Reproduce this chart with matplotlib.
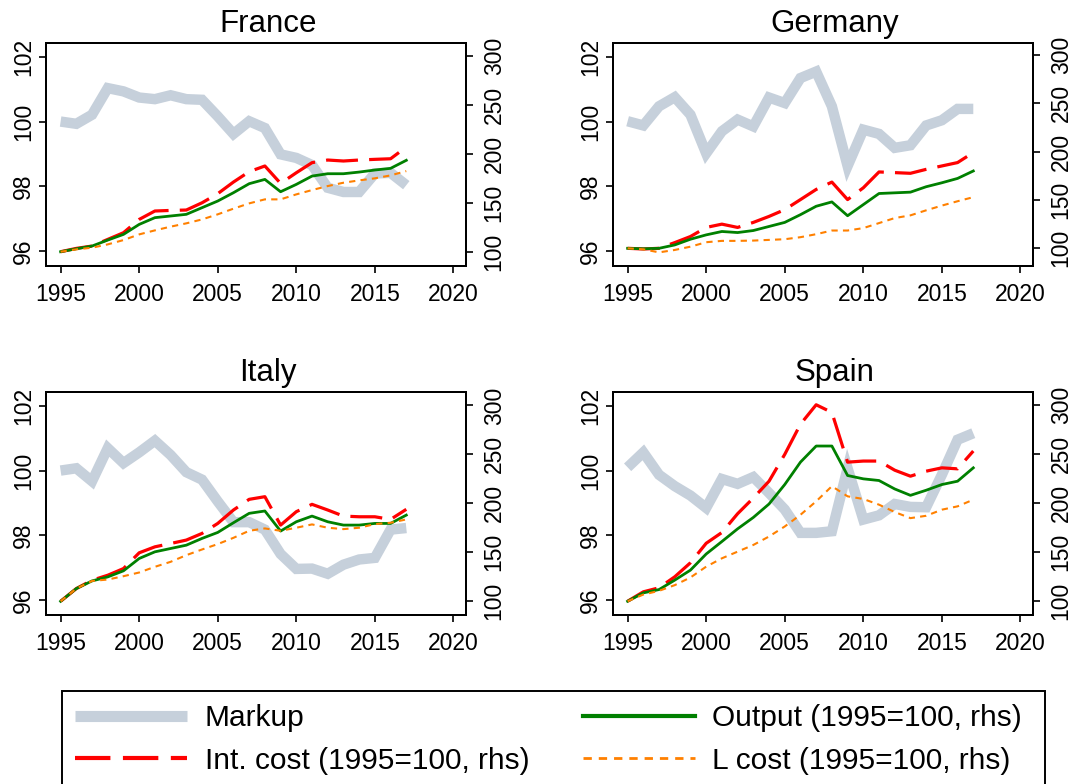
import matplotlib
matplotlib.use("Agg")
import matplotlib.pyplot as plt
from matplotlib.lines import Line2D
from matplotlib.patches import Rectangle

plt.rcParams['font.family'] = ['Liberation Sans', 'DejaVu Sans']

years = list(range(1995, 2018))
countries = ["France", "Germany", "Italy", "Spain"]

fr_markup = [100.0, 99.93, 100.21, 101.03, 100.93, 100.74, 100.69, 100.81, 100.69, 100.67, 100.16, 99.62,
             100.01, 99.80, 98.99, 98.88, 98.66, 97.96, 97.83, 97.83, 98.40, 98.42, 98.04]
fr_int = [100, 103.4, 105.8, 112.6, 119.4, 133, 141.6, 142.2, 142.6, 150, 159.3, 171.2, 181.8, 187.6,
          169.8, 180.7, 191, 193.7, 192.7, 193.7, 194.4, 195, 207]
fr_out = [100, 103, 105.8, 111.9, 117.7, 127.9, 134.8, 136.5, 138.2, 145, 151.8, 160.3, 169.5, 173.9,
          161.3, 168.8, 177.3, 179.7, 179.7, 181.4, 183.5, 185.2, 193.4]
fr_lc = [100, 102.4, 104.1, 107.5, 111.9, 117.7, 121.8, 125.6, 129, 133, 138.2, 144, 149.4, 153.5,
         153.5, 158.6, 163, 167.1, 170.5, 172.9, 175, 178, 182.4]

de_markup = [100.01, 99.88, 100.47, 100.75, 100.21, 99.02, 99.70, 100.06, 99.85, 100.74, 100.57, 101.34,
             101.54, 100.47, 98.63, 99.75, 99.62, 99.19, 99.27, 99.88, 100.04, 100.39, 100.39]
de_int = [100, 99.3, 100, 105.9, 112.2, 121.6, 125, 121.6, 126.8, 133, 140, 150.4, 160.9, 168.5,
          150.4, 162.6, 179, 178.3, 177.6, 181.7, 185.2, 188.7, 199.1]
de_out = [100, 99.5, 100, 103.5, 109.4, 113.9, 117.4, 116.3, 118.4, 122.6, 126.8, 134.8, 143.5, 148,
          133.7, 145.2, 156.7, 157.4, 158.1, 163.7, 167.8, 172.3, 180]
de_lc = [100, 99, 95.8, 98.3, 101.7, 106.3, 107.7, 107.7, 108, 108.7, 109.4, 111.5, 114.6, 118.4,
         118.4, 120.9, 126.1, 131.3, 134.1, 139.3, 144.2, 148.7, 152.9]

it_markup = [100.0, 100.07, 99.67, 100.69, 100.23, 100.56, 100.92, 100.48, 99.95, 99.72, 99.05, 98.41,
             98.41, 98.18, 97.43, 96.97, 96.98, 96.82, 97.10, 97.26, 97.31, 98.18, 98.23]
it_int = [100, 113, 121.5, 126.6, 133.4, 149.5, 155.6, 159, 162.5, 169.3, 179.5, 193.2, 204.1, 206.8,
          177.8, 191.5, 199, 193.2, 187, 186.3, 186.3, 183.6, 193.9]
it_out = [100, 113, 120.8, 124.9, 131.1, 143.7, 150.5, 153.9, 157.3, 164.2, 170.3, 180.2, 189.8, 192.2,
          171.7, 181.2, 187, 181.2, 177.8, 177.8, 179.5, 179.5, 188]
it_lc = [100, 113, 120.8, 122.2, 125.6, 129.4, 135.2, 140.3, 147.1, 152.9, 158.4, 164.8, 172, 174.4,
         172, 175.1, 178.5, 175.1, 173.7, 175.1, 178.8, 180.2, 183.6]

es_markup = [100.10, 100.56, 99.87, 99.52, 99.23, 98.85, 99.74, 99.59, 99.80, 99.31, 98.80, 98.08,
             98.08, 98.13, 100.07, 98.49, 98.62, 98.97, 98.88, 98.87, 99.87, 100.95, 101.15]
es_int = [100, 109.6, 113.7, 124.9, 139.2, 159, 170, 189.1, 205.1, 222.2, 249.5, 280.2, 300, 292.2,
          241.6, 242.7, 242.7, 233.4, 227.3, 232.4, 235.8, 234.8, 252.9]
es_out = [100, 108.5, 111.9, 121.5, 131.7, 148.1, 160.8, 173.7, 185.3, 199, 218.8, 241.6, 258, 258,
          228, 224.6, 222.9, 214.3, 207.8, 213, 218.8, 222.2, 235.8]
es_lc = [100, 106.8, 110.6, 116.4, 124.2, 135.2, 143.7, 150.5, 157.3, 165.9, 176.1, 188, 201.7, 217.1,
         206.8, 204.1, 198.3, 190.8, 184.6, 187, 193.2, 196.6, 203.4]

left_ticks = [96, 98, 100, 102]
right_ticks = [100, 150, 200, 250, 300]
x_ticks = [1995, 2000, 2005, 2010, 2015, 2020]

labels = ["Markup", "Int. cost (1995=100, rhs)", "Output (1995=100, rhs)", "L cost (1995=100, rhs)"]

data = {
    "France": (fr_markup, fr_int, fr_out, fr_lc),
    "Germany": (de_markup, de_int, de_out, de_lc),
    "Italy": (it_markup, it_int, it_out, it_lc),
    "Spain": (es_markup, es_int, es_out, es_lc),
}
right_lims = {"France": (85.4, 313.3), "Germany": (81.7, 312.4),
              "Italy": (86.0, 313.7), "Spain": (86.0, 313.0)}

W, H = 1088, 784
fig = plt.figure(figsize=(W / 100, H / 100), dpi=100)

# axes frames in pixels: (left, top, right, bottom)
frames = {
    "France": (46, 43, 466, 266),
    "Germany": (613, 43, 1033, 266),
    "Italy": (46, 392, 466, 615),
    "Spain": (613, 392, 1033, 615),
}

GRAY = "#C6D0DB"
RED = "#FF0000"
GREEN = "#008000"
ORANGE = "#FF8000"

TICK_FS = 16.5

for c in countries:
    l, t, r, b = frames[c]
    ax = fig.add_axes([l / W, 1 - b / H, (r - l) / W, (b - t) / H])
    mk, ic, ou, lc = data[c]
    ax.plot(years, mk, color=GRAY, lw=7.5, solid_capstyle='butt', solid_joinstyle='miter')
    ax.set_ylim(95.55, 102.42)
    ax.set_xlim(1994.07, 2020.8)
    ax.set_yticks(left_ticks)
    ax.set_xticks(x_ticks)
    ax.set_title(c, fontsize=22.5, pad=8, x=0.5 + 12 / (r - l))
    ax2 = ax.twinx()
    ax2.plot(years, ic, color=RED, lw=2.3, dashes=(10, 3.5))
    ax2.plot(years, ou, color=GREEN, lw=2.0)
    ax2.plot(years, lc, color=ORANGE, lw=1.5, dashes=(3, 2.5))
    ax2.set_ylim(*right_lims[c])
    ax2.set_yticks(right_ticks)
    for a in (ax, ax2):
        for s in a.spines.values():
            s.set_linewidth(1.4)
        a.tick_params(direction='out', length=5, width=1.2, labelsize=TICK_FS)
    ax.tick_params(axis='y', pad=3)
    for lab in ax.get_yticklabels():
        lab.set_rotation(90)
        lab.set_va('center')
    ax2.tick_params(axis='y', pad=7)
    for lab in ax2.get_yticklabels():
        lab.set_rotation(90)
        lab.set_va('center')
    ax.tick_params(axis='x', pad=7)

handles = [
    Line2D([], [], color=GRAY, lw=8, solid_capstyle='butt'),
    Line2D([], [], color=RED, lw=3, dashes=(8.5, 3)),
    Line2D([], [], color=GREEN, lw=3),
    Line2D([], [], color=ORANGE, lw=2, dashes=(3, 2.5)),
]
leg = fig.legend(handles, labels,
                 loc='upper left', bbox_to_anchor=(62 / W, 1 - 691 / H), ncol=2,
                 fontsize=21.5, frameon=False,
                 handlelength=3.75, handletextpad=0.58, columnspacing=1.8,
                 borderpad=0.45, labelspacing=0.48, borderaxespad=0)

# legend frame box (extends past the bottom edge like the reference)
fig.patches.append(Rectangle((62 / W, -0.02), (1045 - 62) / W, 0.02 + 1 - 691 / H,
                             transform=fig.transFigure, fill=False,
                             edgecolor='black', linewidth=1.4))

fig.savefig("out.png", dpi=100)
